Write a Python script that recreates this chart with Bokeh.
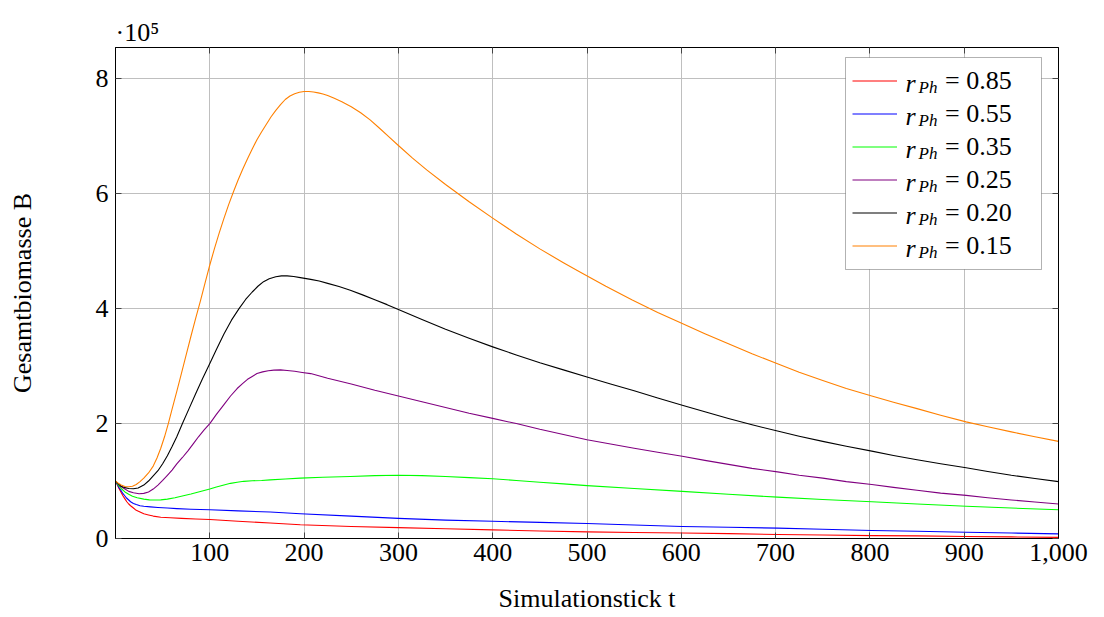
import numpy as np
from bokeh.plotting import figure
from bokeh.models import (Range1d, LinearAxis, FixedTicker, NumeralTickFormatter,
                          CustomJSTickFormatter, Legend, LegendItem, Label, BoxAnnotation)
from bokeh.embed import file_html
from bokeh.resources import INLINE

# ---------------- data (biomass in units of 10^5) ----------------
x_ticks = [100, 200, 300, 400, 500, 600, 700, 800, 900, 1000]
y_ticks = [0, 2, 4, 6, 8]

t_085 = [0, 2, 4, 6, 8, 10, 12, 14, 16, 19, 22, 26, 30, 35, 40, 48, 58, 70, 85, 100, 130, 164, 196,
         250, 300, 350, 400, 450, 500, 550, 601, 650, 702, 750, 802, 850, 902, 950, 1000]
b_085 = [1.00, 0.93, 0.86, 0.80, 0.74, 0.69, 0.64, 0.60, 0.57, 0.53, 0.49, 0.46, 0.43, 0.41, 0.39,
         0.37, 0.36, 0.35, 0.34, 0.33, 0.30, 0.27, 0.24, 0.21, 0.19, 0.17, 0.15, 0.13, 0.115, 0.105,
         0.095, 0.085, 0.07, 0.06, 0.05, 0.045, 0.035, 0.028, 0.02]

t_055 = [0, 2, 4, 6, 8, 10, 12, 14, 16, 19, 22, 26, 30, 37, 45, 55, 65, 80, 100, 130, 164, 196, 250,
         300, 350, 400, 450, 500, 550, 601, 650, 702, 750, 802, 850, 902, 950, 1000]
b_055 = [1.00, 0.94, 0.88, 0.83, 0.78, 0.74, 0.70, 0.67, 0.64, 0.61, 0.59, 0.57, 0.56, 0.55, 0.54,
         0.53, 0.52, 0.51, 0.50, 0.48, 0.46, 0.43, 0.39, 0.35, 0.32, 0.30, 0.28, 0.26, 0.235, 0.21,
         0.195, 0.18, 0.16, 0.14, 0.125, 0.11, 0.095, 0.08]

t_035 = [0, 3, 6, 10, 14, 18, 23, 30, 36, 41, 48, 55, 63, 72, 80, 86, 93, 100, 107, 115, 122, 129,
         136, 145, 155, 164, 180, 196, 220, 249, 275, 300, 325, 350, 375, 400, 425, 450, 475, 500,
         550, 601, 650, 702, 750, 802, 850, 902, 950, 1000]
b_035 = [1.00, 0.93, 0.87, 0.81, 0.77, 0.735, 0.71, 0.685, 0.673, 0.67, 0.673, 0.685, 0.71, 0.745,
         0.775, 0.80, 0.83, 0.86, 0.895, 0.93, 0.96, 0.98, 0.995, 1.005, 1.01, 1.02, 1.035, 1.05,
         1.065, 1.08, 1.095, 1.10, 1.095, 1.08, 1.06, 1.04, 1.01, 0.98, 0.95, 0.92, 0.87, 0.82,
         0.77, 0.72, 0.68, 0.64, 0.60, 0.56, 0.53, 0.50]

t_025 = [0, 3, 6, 10, 14, 19, 25, 30, 35, 40, 45, 50, 55, 60, 65, 71, 77, 83, 88, 94, 100, 107, 115,
         122, 129, 135, 140, 145, 150, 156, 162, 168, 175, 182, 190, 198, 207, 225, 250, 275, 300,
         325, 350, 375, 400, 425, 450, 475, 500, 525, 550, 575, 601, 625, 650, 675, 702, 725, 750,
         775, 802, 825, 850, 875, 902, 925, 950, 975, 1000]
b_025 = [1.00, 0.95, 0.90, 0.86, 0.82, 0.795, 0.78, 0.785, 0.81, 0.86, 0.93, 1.01, 1.10, 1.19, 1.30,
         1.41, 1.53, 1.66, 1.77, 1.89, 2.00, 2.16, 2.33, 2.48, 2.61, 2.70, 2.77, 2.82, 2.87, 2.90,
         2.92, 2.93, 2.935, 2.925, 2.91, 2.89, 2.87, 2.79, 2.69, 2.58, 2.48, 2.38, 2.28, 2.18, 2.09,
         2.00, 1.90, 1.81, 1.72, 1.645, 1.57, 1.50, 1.43, 1.36, 1.29, 1.22, 1.16, 1.10, 1.05, 0.99,
         0.94, 0.89, 0.84, 0.79, 0.75, 0.71, 0.67, 0.635, 0.60]

t_020 = [0, 3, 6, 10, 14, 19, 24, 30, 35, 40, 45, 50, 55, 60, 65, 71, 78, 85, 92, 99, 107, 115, 123,
         131, 138, 145, 151, 157, 163, 170, 176, 182, 189, 196, 207, 216, 225, 237, 249, 262, 275,
         288, 300, 325, 350, 375, 400, 425, 450, 475, 500, 525, 550, 575, 601, 625, 650, 675, 702,
         725, 750, 775, 802, 825, 850, 875, 902, 925, 950, 975, 1000]
b_020 = [1.00, 0.95, 0.91, 0.885, 0.87, 0.865, 0.88, 0.93, 1.00, 1.09, 1.18, 1.30, 1.44, 1.60, 1.77,
         2.00, 2.26, 2.52, 2.77, 3.01, 3.29, 3.56, 3.80, 4.00, 4.16, 4.29, 4.39, 4.47, 4.52, 4.555,
         4.57, 4.57, 4.56, 4.54, 4.51, 4.48, 4.44, 4.385, 4.32, 4.24, 4.155, 4.07, 3.985, 3.81, 3.64,
         3.485, 3.335, 3.195, 3.06, 2.935, 2.81, 2.69, 2.57, 2.445, 2.32, 2.205, 2.09, 1.98, 1.87,
         1.78, 1.69, 1.605, 1.52, 1.445, 1.37, 1.30, 1.23, 1.165, 1.10, 1.045, 0.99]

t_015 = [0, 3, 6, 10, 14, 18, 22, 26, 30, 35, 40, 44, 48, 52, 56, 60, 65, 70, 75, 80, 85, 90, 95,
         100, 105, 110, 115, 120, 125, 130, 135, 140, 145, 150, 155, 160, 165, 170, 175, 180, 185,
         190, 195, 200, 205, 210, 215, 220, 225, 232, 240, 250, 260, 270, 280, 290, 300, 315, 330,
         350, 375, 400, 425, 450, 475, 493, 520, 548, 575, 601, 625, 650, 675, 702, 725, 750, 775,
         802, 825, 850, 875, 902, 925, 950, 975, 1000]
b_015 = [1.00, 0.96, 0.93, 0.905, 0.90, 0.91, 0.94, 0.99, 1.05, 1.14, 1.26, 1.40, 1.57, 1.77, 2.00,
         2.25, 2.56, 2.88, 3.20, 3.52, 3.83, 4.13, 4.45, 4.76, 5.05, 5.32, 5.57, 5.81, 6.03, 6.24,
         6.43, 6.61, 6.78, 6.94, 7.08, 7.21, 7.34, 7.45, 7.55, 7.64, 7.70, 7.74, 7.765, 7.78, 7.78,
         7.77, 7.755, 7.735, 7.71, 7.66, 7.60, 7.515, 7.41, 7.285, 7.14, 6.99, 6.84, 6.62, 6.415,
         6.16, 5.86, 5.575, 5.30, 5.04, 4.80, 4.635, 4.39, 4.15, 3.935, 3.74, 3.565, 3.39, 3.215,
         3.04, 2.895, 2.75, 2.61, 2.48, 2.37, 2.26, 2.145, 2.03, 1.945, 1.855, 1.77, 1.69]

labels = ["0.85", "0.55", "0.35", "0.25", "0.20", "0.15"]
colors = ["#ff0000", "#0000ff", "#00ff00", "#800080", "#000000", "#ff8000"]
series = [(t_085, b_085), (t_055, b_055), (t_035, b_035), (t_025, b_025), (t_020, b_020), (t_015, b_015)]

FONT = "Liberation Serif"
FS = "26px"

p = figure(frame_width=943, frame_height=491,
           x_range=Range1d(0, 1000), y_range=Range1d(0, 8.545),
           output_backend="svg", toolbar_location=None,
           min_border_left=115, min_border_right=46, min_border_top=47, min_border_bottom=79)

p.outline_line_color = "black"
p.outline_line_width = 1
p.background_fill_color = "white"
p.border_fill_color = "white"

p.title.text = "·10⁵"
p.title.align = "left"
p.title.offset = 0
p.title.text_font = FONT
p.title.text_font_size = FS
p.title.text_font_style = "normal"
p.title.text_color = "black"
p.title.standoff = 2

# axes
p.xaxis.ticker = FixedTicker(ticks=x_ticks)
p.xaxis.formatter = NumeralTickFormatter(format="0,0")
p.yaxis.ticker = FixedTicker(ticks=y_ticks)
for ax in (p.xaxis[0], p.yaxis[0]):
    ax.major_tick_in = 6
    ax.major_tick_out = 0
    ax.minor_tick_in = 0
    ax.minor_tick_out = 0
    ax.major_tick_line_color = "#444444"
    ax.axis_line_color = "black"
    ax.major_label_text_font = FONT
    ax.major_label_text_font_size = FS
    ax.major_label_text_color = "black"
    ax.axis_label_text_font = FONT
    ax.axis_label_text_font_size = FS
    ax.axis_label_text_font_style = "normal"
    ax.axis_label_text_color = "black"
p.xaxis.major_label_standoff = 5
p.xaxis.axis_label = "Simulationstick t"
p.xaxis.axis_label_standoff = 20
p.yaxis.major_label_standoff = 7
p.yaxis.axis_label = "Gesamtbiomasse B"
p.yaxis.axis_label_standoff = 56

for loc, tk in (("right", y_ticks), ("above", x_ticks)):
    ax = LinearAxis(ticker=FixedTicker(ticks=tk), formatter=CustomJSTickFormatter(code="return ''"),
                    major_tick_in=6, major_tick_out=0, minor_tick_in=0, minor_tick_out=0,
                    major_tick_line_color="#444444", axis_line_color="black",
                    major_label_standoff=0)
    p.add_layout(ax, loc)

p.xgrid.ticker = FixedTicker(ticks=x_ticks)
p.ygrid.ticker = FixedTicker(ticks=y_ticks)
p.grid.grid_line_color = "#bfbfbf"
p.grid.grid_line_width = 1

# legend geometry (screen px, relative to the frame's bottom-left corner)
PAD = 7
ROW = 33
GLYPH_W = 45
STANDOFF = 48
LABEL_W = 89
N = len(labels)
LEG_LEFT = 730
LEG_BOTTOM = 269
LEG_W = 2 * PAD + GLYPH_W + STANDOFF + LABEL_W
LEG_H = 2 * PAD + N * ROW

# white legend box (covers the grid)
p.add_layout(BoxAnnotation(left=LEG_LEFT, right=LEG_LEFT + LEG_W, bottom=LEG_BOTTOM,
                           top=LEG_BOTTOM + LEG_H, left_units="screen", right_units="screen",
                           bottom_units="screen", top_units="screen",
                           fill_color="white", fill_alpha=1, line_color="black", line_width=1,
                           level="glyph"))

# lines
items = []
for (tt, bb), lab, col in zip(series, labels, colors):
    r = p.line(tt, bb, line_color=col, line_width=1.1, line_join="round")
    items.append(LegendItem(label="= " + lab, renderers=[r]))

legend = Legend(items=items, location=(LEG_LEFT, LEG_BOTTOM), glyph_width=GLYPH_W, glyph_height=ROW,
                label_height=ROW, spacing=0, padding=PAD, label_standoff=STANDOFF, label_width=LABEL_W,
                margin=0, border_line_color="black", border_line_alpha=0, border_line_width=1,
                background_fill_color="white", background_fill_alpha=0,
                label_text_font=FONT, label_text_font_size=FS, label_text_color="black")
p.add_layout(legend)

for i in range(N):
    cy = LEG_BOTTOM + PAD + ROW / 2 + ROW * (N - 1 - i)
    p.add_layout(Label(x=LEG_LEFT + 60, y=cy - 2, x_units="screen", y_units="screen", text="r",
                       text_font=FONT, text_font_style="italic", text_font_size=FS,
                       text_color="black", text_baseline="alphabetic", text_align="left",
                       level="overlay"))
    p.add_layout(Label(x=LEG_LEFT + 73, y=cy - 6, x_units="screen", y_units="screen", text="Ph",
                       text_font=FONT, text_font_style="italic", text_font_size="17px",
                       text_color="black", text_baseline="alphabetic", text_align="left",
                       level="overlay"))

open("out.html", "w").write(file_html(p, INLINE))
